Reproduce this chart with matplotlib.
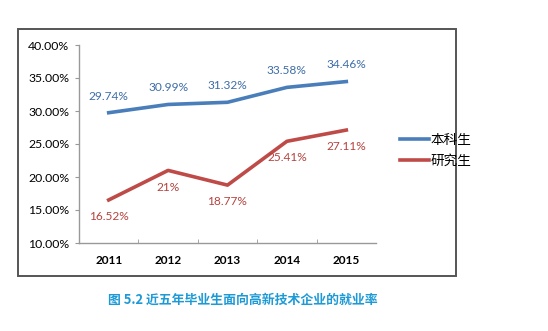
import matplotlib
matplotlib.use("Agg")
import matplotlib.pyplot as plt
from matplotlib.patches import Rectangle

plt.rcParams['font.family'] = ['Lato', 'Noto Sans CJK SC', 'DejaVu Sans']

years = ["2011", "2012", "2013", "2014", "2015"]
undergrad = [29.74, 30.99, 31.32, 33.58, 34.46]
graduate = [16.52, 21.00, 18.77, 25.41, 27.11]
undergrad_labels = ["29.74%", "30.99%", "31.32%", "33.58%", "34.46%"]
graduate_labels = ["16.52%", "21%", "18.77%", "25.41%", "27.11%"]
y_ticks = [10, 15, 20, 25, 30, 35, 40]

blue = "#4a7ebb"
red = "#be4b48"

W, H = 548, 331
fig = plt.figure(figsize=(W / 100, H / 100), dpi=100)

# outer chart frame
fig.add_artist(Rectangle((18 / W, 1 - 276 / H), (456 - 18) / W, (276 - 29) / H,
                         transform=fig.transFigure, fill=False,
                         edgecolor="#555555", linewidth=1.4))

ax = fig.add_axes([79 / W, 1 - 243 / H, (376 - 79) / W, (243 - 45) / H])
x = list(range(len(years)))
ax.plot(x, undergrad, color=blue, linewidth=2.6, label="本科生")
ax.plot(x, graduate, color=red, linewidth=2.6, label="研究生")

for i, (v, s) in enumerate(zip(undergrad, undergrad_labels)):
  ax.annotate(s, (i, v), xytext=(0, 8), textcoords="offset points",
              ha="center", va="bottom", color="#3e6da6", fontsize=8.6)
for i, (v, s) in enumerate(zip(graduate, graduate_labels)):
  ax.annotate(s, (i, v), xytext=(0, -8), textcoords="offset points",
              ha="center", va="top", color="#b4443f", fontsize=8.6)

ax.set_xlim(-0.5, len(years) - 0.5)
ax.set_ylim(10, 40)
ax.set_yticks(y_ticks)
ax.set_yticklabels(["%.2f%%" % t for t in y_ticks], fontsize=8.8)
ax.set_xticks(x)
ax.set_xticklabels(years, fontsize=8.5, fontweight="bold")
ax.set_xticks([i + 0.5 for i in x[:-1]], minor=True)
ax.tick_params(axis="x", which="major", length=0, pad=9)
ax.tick_params(axis="x", which="minor", length=3, direction="in", color="#999999")
ax.tick_params(axis="y", length=3, color="#999999", pad=4)
for sp in ["top", "right"]:
  ax.spines[sp].set_visible(False)
for sp in ["left", "bottom"]:
  ax.spines[sp].set_color("#999999")
  ax.spines[sp].set_linewidth(1)

fig.legend(loc="upper left", bbox_to_anchor=(388 / W, 1 - 121 / H),
           frameon=False, handlelength=2.1, handletextpad=0.15,
           labelspacing=0.45, prop={'family': ['Noto Sans CJK SC'], 'size': 9.8})

fig.text(243 / W, 1 - 300 / H, "图 5.2 近五年毕业生面向高新技术企业的就业率",
         ha="center", va="center", color="#1d9ad6", fontsize=9.3,
         fontweight="bold", family=['Noto Sans CJK SC', 'DejaVu Sans'])

fig.savefig("out.png", dpi=100)
